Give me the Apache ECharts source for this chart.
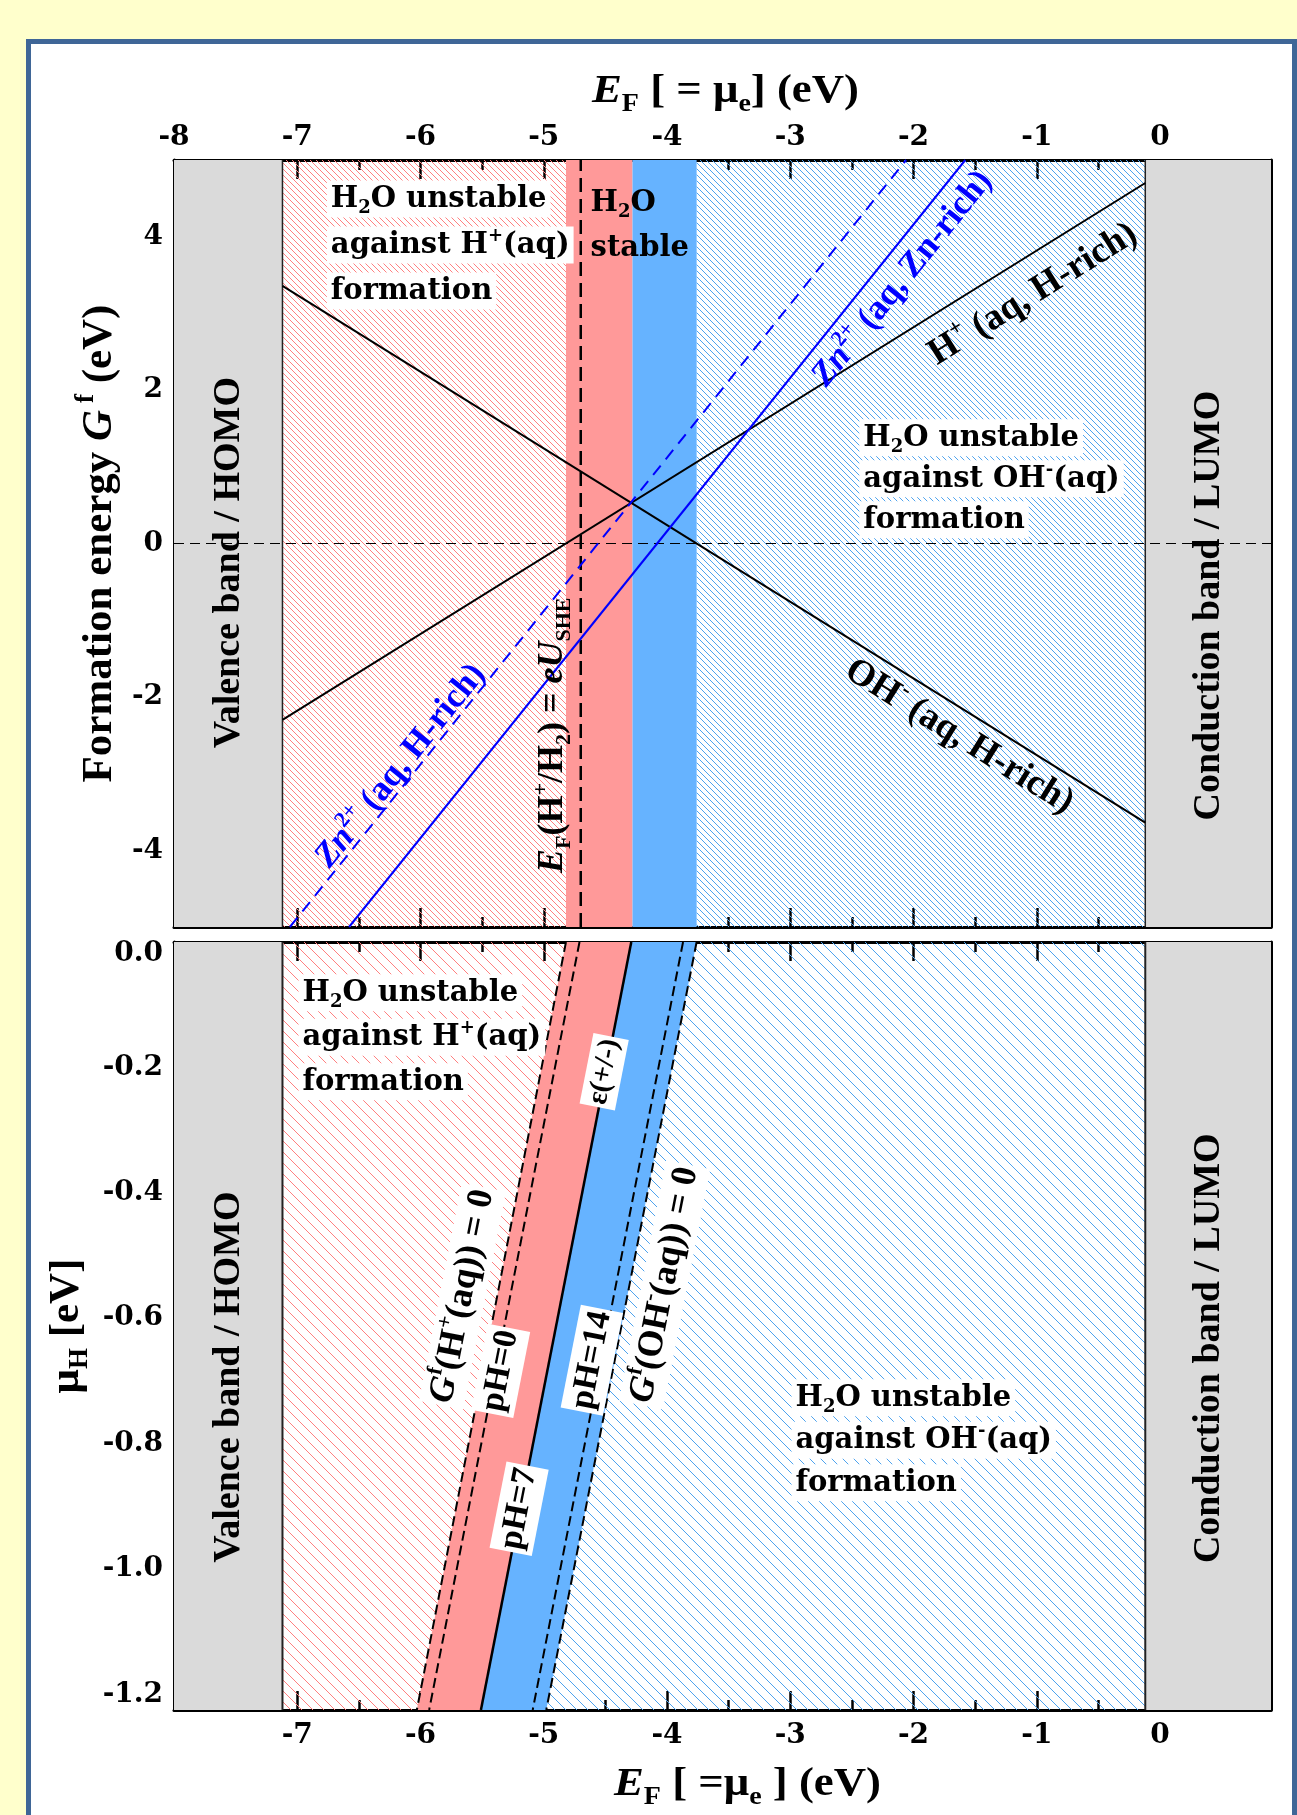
<!DOCTYPE html>
<html lang="en">
<head>
<meta charset="UTF-8">
<title>H2O stability window</title>
<script src="https://cdn.jsdelivr.net/npm/echarts@6.0.0/dist/echarts.min.js"></script>
<style>
  html, body { margin: 0; padding: 0; width: 1297px; height: 1815px; overflow: hidden; background: #ffffcc; }
  #panel { position: absolute; left: 26px; top: 39px; width: 1261px; height: 1800px; border: 5px solid #3f6697; background: #fff; }
  #container { position: absolute; left: 0; top: 0; width: 1297px; height: 1815px; }
</style>
</head>
<body>
<div id="panel"></div>
<div id="container"></div>
<script>
// axis ranges and ticks (eV)
var xRange = [-8, 0.9];
var gRange = [-5, 5];
var muRange = [-1.225, 0];
var xTicks = [-8, -7, -6, -5, -4, -3, -2, -1, 0];
var xBottomLabels = [-7, -6, -5, -4, -3, -2, -1, 0];
var xMinor = [-7.5, -6.5, -5.5, -4.5, -3.5, -2.5, -1.5, -0.5, 0.5];
var gTicks = [-4, -2, 0, 2, 4];
var gMinor = [-3, -1, 1, 3];
var muTicks = [0, -0.2, -0.4, -0.6, -0.8, -1.0, -1.2];
var muMinor = [-0.1, -0.3, -0.5, -0.7, -0.9, -1.1];

// band edges
var vbm = -7.12, cbm = -0.12;

// upper panel: formation energy vs E_F  [E_F, G]
var hPlusLine = [[-7.12, -2.30], [-0.12, 4.70]];
var ohMinusLine = [[-7.12, 3.36], [-0.12, -3.64]];
var znZnRichLine = [[-6.58, -5], [-1.58, 5]];
var znHRichLine = [[-7.06, -5], [-2.06, 5]];
var sheLine = [[-4.70, -5], [-4.70, 5]];
var zeroLine = [[-8, 0], [0.9, 0]];
var stableRed = [-4.82, -4.28];
var stableBlue = [-4.28, -3.76];

// lower panel: lines in [E_F, mu_H]
var gHLine = [[-4.82, 0], [-6.03, -1.225]];
var pH0Line = [[-4.71, 0], [-5.93, -1.225]];
var epsLine = [[-4.29, 0], [-5.51, -1.225]];
var pH14Line = [[-3.87, 0], [-5.09, -1.225]];
var gOHLine = [[-3.76, 0], [-4.98, -1.225]];

var GL = 174, GW = 1097, GT = 160, GH = 767, G2T = 942, G2H = 768;

function hatch(color, step) {
	var c = document.createElement('canvas');
	c.width = step; c.height = step;
	var g = c.getContext('2d');
	g.strokeStyle = color; g.lineWidth = 1;
	g.beginPath();
	for (var k = -1; k <= 1; k++) { g.moveTo(k * step, 0); g.lineTo(k * step + step, step); }
	g.stroke();
	return c;
}
var RED = '#ff9999', BLUE = '#66b3ff', GREY = '#dadada';
var redHatchTop = { image: hatch('#ff8080', 6), repeat: 'repeat' };
var blueHatchTop = { image: hatch('#4ea3ee', 6), repeat: 'repeat' };
var redHatchBot = { image: hatch('#ff8080', 11), repeat: 'repeat' };
var blueHatchBot = { image: hatch('#4ea3ee', 11), repeat: 'repeat' };

function rect(x0, x1, yr) { return [[x0, yr[0]], [x1, yr[0]], [x1, yr[1]], [x0, yr[1]]]; }

var topAreas = [
	{ pts: rect(xRange[0], vbm, gRange), fill: GREY },
	{ pts: rect(vbm, stableRed[0], gRange), fill: redHatchTop },
	{ pts: rect(stableRed[0], stableRed[1], gRange), fill: RED },
	{ pts: rect(stableBlue[0], stableBlue[1], gRange), fill: BLUE },
	{ pts: rect(stableBlue[1], cbm, gRange), fill: blueHatchTop },
	{ pts: rect(cbm, xRange[1], gRange), fill: GREY }
];
var botAreas = [
	{ pts: rect(xRange[0], vbm, muRange), fill: GREY },
	{ pts: [[vbm, 0], gHLine[0], gHLine[1], [vbm, muRange[0]]], fill: redHatchBot },
	{ pts: [gHLine[0], epsLine[0], epsLine[1], gHLine[1]], fill: RED },
	{ pts: [epsLine[0], gOHLine[0], gOHLine[1], epsLine[1]], fill: BLUE },
	{ pts: [gOHLine[0], [cbm, 0], [cbm, muRange[0]], gOHLine[1]], fill: blueHatchBot },
	{ pts: rect(cbm, xRange[1], muRange), fill: GREY }
];

function areaSeries(ai, polys) {
	return {
		type: 'custom', coordinateSystem: 'cartesian2d', xAxisIndex: ai, yAxisIndex: ai,
		silent: true, z: 1,
		data: polys.map(function (p) { return p.pts[0]; }),
		renderItem: function (params, api) {
			var p = polys[params.dataIndex];
			return {
				type: 'polygon',
				shape: { points: p.pts.map(function (v) { return api.coord(v); }) },
				style: { fill: p.fill, stroke: null }
			};
		}
	};
}

function lineS(ai, data, color, width, type) {
	return {
		type: 'line', xAxisIndex: ai, yAxisIndex: ai, data: data, symbol: 'none',
		silent: true, z: 3, lineStyle: { color: color, width: width, type: type || 'solid' }
	};
}

var tickFont = { fontFamily: 'DejaVu Serif', fontWeight: 'bold', fontSize: 28, color: '#000' };

function axis(grid, pos, range, vals, len, line, labelFmt, margin, labelVals) {
	return {
		type: 'value', gridIndex: grid, position: pos, min: range[0], max: range[1],
		axisLine: { show: line, onZero: false, lineStyle: { color: '#000', width: 3 } },
		axisTick: { show: true, inside: true, length: len, customValues: vals, lineStyle: { color: '#000', width: 2.5 } },
		axisLabel: Object.assign({
			show: !!labelFmt, customValues: labelVals || vals, formatter: labelFmt || null, margin: margin || 10,
			rich: { z: { fontFamily: 'DejaVu Serif', fontWeight: 'bold', fontSize: 28, color: '#000', padding: [24, 0, 0, 0] } }
		}, tickFont),
		splitLine: { show: false }
	};
}
function fmtInt(v) { return String(Math.round(v)); }
function fmtMu(v) { return v === 0 ? '{z|0.0}' : Number(v).toFixed(1); }

var xAxes = [
	axis(0, 'top', xRange, xTicks, 19, true, fmtInt, 8),
	axis(0, 'top', xRange, xMinor, 10, false),
	axis(0, 'bottom', xRange, xTicks, 19, true),
	axis(0, 'bottom', xRange, xMinor, 10, false),
	axis(1, 'bottom', xRange, xTicks, 19, true, fmtInt, 12, xBottomLabels),
	axis(1, 'bottom', xRange, xMinor, 10, false),
	axis(1, 'top', xRange, xTicks, 19, true),
	axis(1, 'top', xRange, xMinor, 10, false)
];
var yAxes = [
	axis(0, 'left', gRange, gTicks, 19, true, fmtInt, 11),
	axis(0, 'left', gRange, gMinor, 10, false),
	axis(0, 'right', gRange, gTicks, 19, true),
	axis(0, 'right', gRange, gMinor, 10, false),
	axis(1, 'left', muRange, muTicks, 19, true, fmtMu, 11),
	axis(1, 'left', muRange, muMinor, 10, false),
	axis(1, 'right', muRange, muTicks, 19, true),
	axis(1, 'right', muRange, muMinor, 10, false)
];

var series = [
	areaSeries(0, topAreas),
	areaSeries(4, botAreas),
	lineS(0, [[vbm, gRange[0]], [vbm, gRange[1]]], '#222', 1.5),
	lineS(0, [[cbm, gRange[0]], [cbm, gRange[1]]], '#222', 1.5),
	lineS(4, [[vbm, muRange[0]], [vbm, muRange[1]]], '#222', 2),
	lineS(4, [[cbm, muRange[0]], [cbm, muRange[1]]], '#222', 2),
	lineS(0, zeroLine, '#000', 1.2, [10, 6]),
	lineS(0, sheLine, '#000', 2.5, [14, 7]),
	lineS(0, hPlusLine, '#000', 2),
	lineS(0, ohMinusLine, '#000', 2),
	lineS(0, znHRichLine, '#0000ff', 2, [12, 8]),
	lineS(0, znZnRichLine, '#0000ff', 2),
	lineS(4, gHLine, '#000', 2, [10, 5]),
	lineS(4, pH0Line, '#000', 2, [10, 5]),
	lineS(4, epsLine, '#000', 2.5),
	lineS(4, pH14Line, '#000', 2, [10, 5]),
	lineS(4, gOHLine, '#000', 2, [10, 5])
];

var dom = document.getElementById('container');
var myChart = echarts.init(dom, null, { renderer: 'canvas' });
myChart.setOption({
	animation: false,
	backgroundColor: 'transparent',
	grid: [
		{ left: GL, top: GT, width: GW, height: GH },
		{ left: GL, top: G2T, width: GW, height: G2H }
	],
	xAxis: xAxes,
	yAxis: yAxes,
	series: series
});

// ---- text ----
function mkRich(fam, s, color) {
	var lh = Math.round(s * 1.25), ss = Math.round(s * 0.62);
	function st(extra) {
		var o = { fontFamily: fam, fontWeight: 'bold', fontSize: s, lineHeight: lh, fill: color };
		for (var k in extra) o[k] = extra[k];
		return o;
	}
	return {
		n: st({}),
		i: st({ fontStyle: 'italic' }),
		sb: st({ fontSize: ss, lineHeight: ss, verticalAlign: 'bottom' }),
		sp: st({ fontSize: ss, lineHeight: ss, verticalAlign: 'top' })
	};
}
function txt(pos, text, rich, o) {
	o = o || {};
	var style = {
		text: text, rich: rich, fill: o.color || '#000',
		align: o.align || 'center', verticalAlign: 'middle'
	};
	if (o.bg) { style.backgroundColor = '#fff'; style.padding = o.pad || [1, 4, 0, 4]; }
	return { type: 'text', x: pos[0], y: pos[1], rotation: o.rot || 0, scaleX: o.sx || 1, z: 100, silent: true, style: style };
}
function px(g, pt) { return myChart.convertToPixel({ xAxisIndex: g ? 4 : 0, yAxisIndex: g ? 4 : 0 }, pt); }

var regRich = mkRich('DejaVu Serif', 29, '#000');
var h2oUnstable = '{n|H}{sb|2}{n|O unstable}';
var againstH = '{n|against H}{sp|+}{n|(aq)}';
var againstOH = '{n|against OH}{sp|-}{n|(aq)}';
var formation = '{n|formation}';
var blocks = [
	{ g: 0, at: [-6.76, 4.49], gap: 46, bg: true, lines: [h2oUnstable, againstH, formation] },
	{ g: 0, at: [-4.62, 4.43], gap: 45, bg: false, lines: ['{n|H}{sb|2}{n|O}', '{n|stable}'] },
	{ g: 0, at: [-2.44, 1.38], gap: 41, bg: true, lines: [h2oUnstable, againstOH, formation] },
	{ g: 1, at: [-6.99, -0.081], gap: 44.5, bg: true, lines: [h2oUnstable, againstH, formation] },
	{ g: 1, at: [-2.99, -0.727], gap: 42.5, bg: true, lines: [h2oUnstable, againstOH, formation] }
];

var rot90 = Math.PI / 2;
var rotH = Math.atan(GH / 10 / (GW / 8.9));          // slope 1 in upper panel
var rotZn = Math.atan(2 * GH / 10 / (GW / 8.9));     // slope 2 in upper panel
var rotMu = Math.atan(G2H / 1.225 / (GW / 8.9));     // slope 1 in lower panel

var bandRich = mkRich('Liberation Serif', 38, '#000');
var lineRich = mkRich('Liberation Serif', 37, '#000');
var sheRich = mkRich('Liberation Serif', 36, '#000');
var blueRich = mkRich('Liberation Serif', 35, '#0000ff');
var botRich = mkRich('Liberation Serif', 36, '#000');
var phRich = mkRich('Liberation Serif', 34, '#000');
var epsRich = mkRich('Liberation Serif', 29, '#000');

var notes = [
	{ g: 0, at: [-7.555, -0.25], t: '{n|Valence band / HOMO}', rich: bandRich, rot: rot90 },
	{ g: 0, at: [0.40, -0.81], t: '{n|Conduction band / LUMO}', rich: bandRich, rot: rot90 },
	{ g: 1, at: [-7.555, -0.694], t: '{n|Valence band / HOMO}', rich: bandRich, rot: rot90 },
	{ g: 1, at: [0.40, -0.648], t: '{n|Conduction band / LUMO}', rich: bandRich, rot: rot90 },
	{ g: 0, at: [-4.925, -2.50], t: '{i|E}{sb|F}{n|(H}{sp|+}{n|/H}{sb|2}{n|) = }{i|eU}{sb|SHE}', rich: sheRich, rot: rot90 },
	{ g: 0, at: [-1.03, 3.25], t: '{n|H}{sp|+}{n| (aq, H-rich)}', rich: lineRich, rot: rotH },
	{ g: 0, at: [-1.63, -2.52], t: '{n|OH}{sp|-}{n| (aq, H-rich)}', rich: lineRich, rot: -rotH },
	{ g: 0, at: [-2.09, 3.45], t: '{i|Zn}{sp|2+}{n| (aq, Zn-rich)}', rich: blueRich, rot: rotZn, color: '#0000ff' },
	{ g: 0, at: [-6.16, -2.90], t: '{i|Zn}{sp|2+}{n| (aq, H-rich)}', rich: blueRich, rot: rotZn, color: '#0000ff' },
	{ g: 1, at: [-5.66, -0.565], t: '{i|G}{sp|f}{n|(H}{sp|+}{n|(aq)) = 0}', rich: botRich, rot: rotMu, bg: true },
	{ g: 1, at: [-5.35, -0.684], t: '{n|pH=0}', rich: phRich, rot: rotMu, bg: true },
	{ g: 1, at: [-5.20, -0.904], t: '{n|pH=7}', rich: phRich, rot: rotMu, bg: true },
	{ g: 1, at: [-4.61, -0.667], t: '{n|pH=14}', rich: phRich, rot: rotMu, bg: true },
	{ g: 1, at: [-4.51, -0.207], t: '{n|ε(+/-)}', rich: epsRich, rot: rotMu, bg: true },
	{ g: 1, at: [-4.02, -0.547], t: '{i|G}{sp|f}{n|(OH}{sp|-}{n|(aq)) = 0}', rich: botRich, rot: rotMu, bg: true }
];

var gfx = [];
blocks.forEach(function (b) {
	var p = px(b.g, b.at);
	b.lines.forEach(function (l, i) {
		gfx.push(txt([p[0], p[1] + i * b.gap], l, regRich, { align: 'left', bg: b.bg }));
	});
});
notes.forEach(function (n) {
	gfx.push(txt(px(n.g, n.at), n.t, n.rich, { rot: n.rot, bg: n.bg, color: n.color, pad: [0, 3, 0, 3] }));
});

// axis titles
var titleRich = mkRich('Liberation Serif', 40, '#000');
var yTitleRich = mkRich('Liberation Serif', 43, '#000');
gfx.push(txt([GL + GW / 2 + 3, GT - 68], '{i|E}{sb|F}{n| [ = μ}{sb|e}{n|] (eV)}', titleRich, { sx: 1.12 }));
gfx.push(txt([GL + GW / 2 + 25, G2T + G2H + 75], '{i|E}{sb|F}{n| [ =μ}{sb|e}{n| ] (eV)}', titleRich, { sx: 1.12 }));
gfx.push(txt([GL - 74, GT + GH / 2], '{n|Formation energy }{i|G}{sp| f}{n| (eV)}', yTitleRich, { rot: rot90 }));
gfx.push(txt([GL - 107, G2T + G2H / 2], '{n|μ}{sb|H}{n| [eV]}', yTitleRich, { rot: rot90 }));

myChart.setOption({ graphic: { elements: gfx } });
</script>
</body>
</html>
